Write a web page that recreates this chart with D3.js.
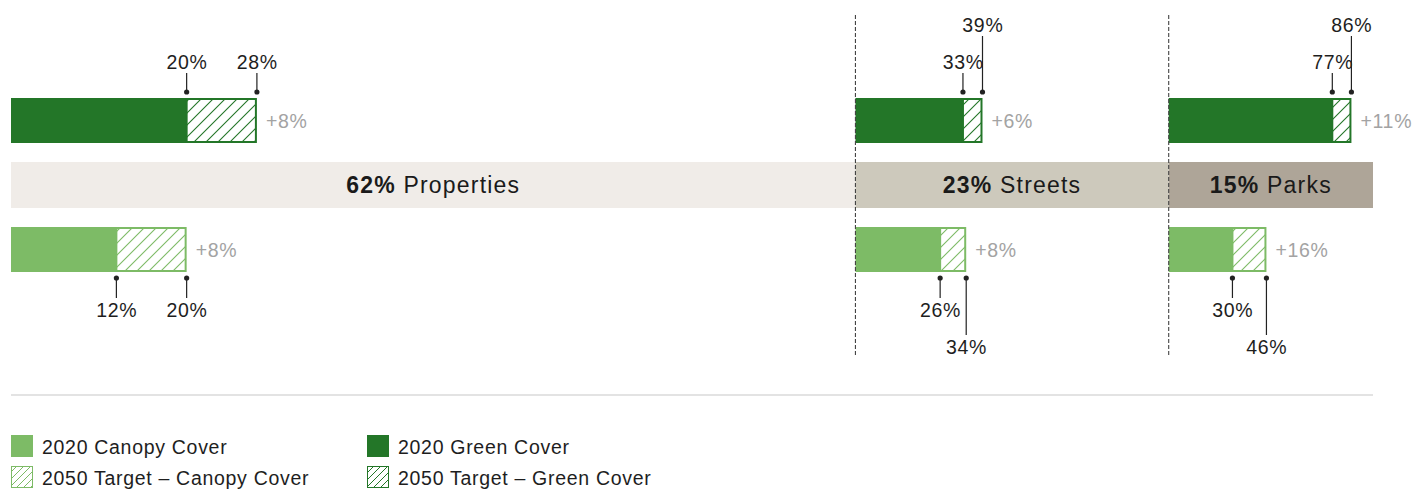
<!DOCTYPE html>
<html>
<head>
<meta charset="utf-8">
<script src="https://cdn.jsdelivr.net/npm/d3@7"></script>
<style>
  body { margin: 0; background: #fff; }
  svg { display: block; font-family: "Liberation Sans", Arial, sans-serif; }
</style>
</head>
<body>
<div id="chart"></div>
<script>
// data
const segments = ["Properties", "Streets", "Parks"];
const shares = [62, 23, 15];
const green2020 = [20, 33, 77];
const green2050 = [28, 39, 86];
const greenIncrease = [8, 6, 11];   // as printed in the original
const canopy2020 = [12, 26, 30];
const canopy2050 = [20, 34, 46];
const canopyIncrease = [8, 8, 16];
// which target label gets lifted to a second row to avoid overlap
const greenTier = [0, 1, 1];
const canopyTier = [0, 1, 1];
const legendItems = ["2020 Canopy Cover", "2050 Target \u2013 Canopy Cover", "2020 Green Cover", "2050 Target \u2013 Green Cover"];

const W = 1416, H = 491;
const DARK = "#237628", LIGHT = "#7dbb66";
const bandColors = ["#f0ece8", "#cdc9bc", "#aea598"];

const svg = d3.select("#chart").append("svg")
    .attr("width", W).attr("height", H);

const defs = svg.append("defs");
function hatch(id, color, size, width) {
    const p = defs.append("pattern")
        .attr("id", id)
        .attr("patternUnits", "userSpaceOnUse")
        .attr("width", size).attr("height", size);
    p.append("rect").attr("width", size).attr("height", size).attr("fill", "#fff");
    p.append("path")
        .attr("d", `M0,${size} L${size},0 M${-size / 2},${size / 2} L${size / 2},${-size / 2} M${size / 2},${size * 1.5} L${size * 1.5},${size / 2}`)
        .attr("stroke", color).attr("stroke-width", width);
}
hatch("hatchDark", DARK, 12, 1.1);
hatch("hatchLight", LIGHT, 12, 1.1);
hatch("hatchDarkSm", DARK, 7, 1);
hatch("hatchLightSm", LIGHT, 7, 1);

// overall share scale across the full width
const xShare = d3.scaleLinear().domain([0, 100]).range([11, 1373]);
const starts = d3.cumsum([0].concat(shares)).slice(0, shares.length);

// each segment gets its own 0-100% scale (bars slightly overscaled like the original)
const segScales = shares.map((s, i) => {
    const x0 = xShare(starts[i]);
    const w = xShare(s) - xShare(0);
    return d3.scaleLinear().domain([0, 100]).range([x0, x0 + w * 1.04]);
});

const greenY = 98, barH = 45;
const bandY = 162, bandH = 46;
const canopyY = 227;

const labelStyle = sel => sel
    .style("font-size", "19.5px").style("letter-spacing", "0.7px").style("fill", "#1e1e1e");

// category band
segments.forEach((name, i) => {
    const x0 = xShare(starts[i]), x1 = xShare(starts[i] + shares[i]);
    svg.append("rect")
        .attr("x", x0).attr("y", bandY)
        .attr("width", x1 - x0).attr("height", bandH)
        .attr("fill", bandColors[i]);
    const t = svg.append("text")
        .attr("x", (x0 + x1) / 2).attr("y", bandY + bandH / 2 + 8)
        .attr("text-anchor", "middle")
        .style("font-size", "23px").style("letter-spacing", "1.2px").style("fill", "#1a1a1a");
    t.append("tspan").attr("font-weight", "bold").text(shares[i] + "%");
    t.append("tspan").text(" " + name);
});

function drawBars(i, v2020, v2050, inc, y, solid, hatchId, tier, above) {
    const x = segScales[i];
    svg.append("rect")
        .attr("x", x(0)).attr("y", y)
        .attr("width", x(v2020) - x(0)).attr("height", barH)
        .attr("fill", solid);
    svg.append("rect")
        .attr("x", x(v2020)).attr("y", y + 1)
        .attr("width", x(v2050) - x(v2020) - 1).attr("height", barH - 2)
        .attr("fill", `url(#${hatchId})`)
        .attr("stroke", solid).attr("stroke-width", 2);

    svg.append("text")
        .attr("x", x(v2050) + 9).attr("y", y + barH / 2 + 7)
        .call(labelStyle).style("fill", "#a3a3a3")
        .text("+" + inc + "%");

    [[v2020, 0], [v2050, tier]].forEach(([v, row]) => {
        const cx = x(v);
        let dotY, textY, lineEnd;
        if (above) {
            dotY = y - 6;
            textY = row ? 32 : 69;
            lineEnd = textY + 4;
        } else {
            dotY = y + barH + 6;
            textY = row ? 354 : 317;
            lineEnd = textY - 19;
        }
        svg.append("line").attr("x1", cx).attr("x2", cx)
            .attr("y1", lineEnd).attr("y2", dotY)
            .attr("stroke", "#222").attr("stroke-width", 1.2);
        svg.append("circle").attr("cx", cx).attr("cy", dotY).attr("r", 2.6).attr("fill", "#222");
        svg.append("text").attr("x", cx + 0.4).attr("y", textY)
            .attr("text-anchor", "middle")
            .call(labelStyle)
            .text(v + "%");
    });
}

segments.forEach((name, i) => {
    drawBars(i, green2020[i], green2050[i], greenIncrease[i], greenY, DARK, "hatchDark", greenTier[i], true);
    drawBars(i, canopy2020[i], canopy2050[i], canopyIncrease[i], canopyY, LIGHT, "hatchLight", canopyTier[i], false);
});

// dashed dividers between segments
starts.slice(1).forEach(s => {
    svg.append("line")
        .attr("x1", xShare(s)).attr("x2", xShare(s))
        .attr("y1", 15).attr("y2", 355)
        .attr("stroke", "#444").attr("stroke-width", 1.1)
        .attr("stroke-dasharray", "4,2");
});

// legend
svg.append("line")
    .attr("x1", xShare(0)).attr("x2", xShare(100))
    .attr("y1", 395).attr("y2", 395)
    .attr("stroke", "#c8c8c8").attr("stroke-width", 1.2);

const legendFills = [LIGHT, "url(#hatchLightSm)", DARK, "url(#hatchDarkSm)"];
const legendStroke = [null, LIGHT, null, DARK];
legendItems.forEach((label, i) => {
    const col = Math.floor(i / 2), row = i % 2;
    const lx = 11 + col * 356, ly = 435 + row * 31;
    const s = legendStroke[i];
    svg.append("rect")
        .attr("x", lx + (s ? 0.5 : 0)).attr("y", ly + (s ? 0.5 : 0))
        .attr("width", s ? 21 : 22).attr("height", s ? 21 : 22)
        .attr("fill", legendFills[i])
        .attr("stroke", s || "none").attr("stroke-width", 1);
    svg.append("text")
        .attr("x", lx + 31).attr("y", ly + 19)
        .call(labelStyle)
        .text(label);
});
</script>
</body>
</html>
